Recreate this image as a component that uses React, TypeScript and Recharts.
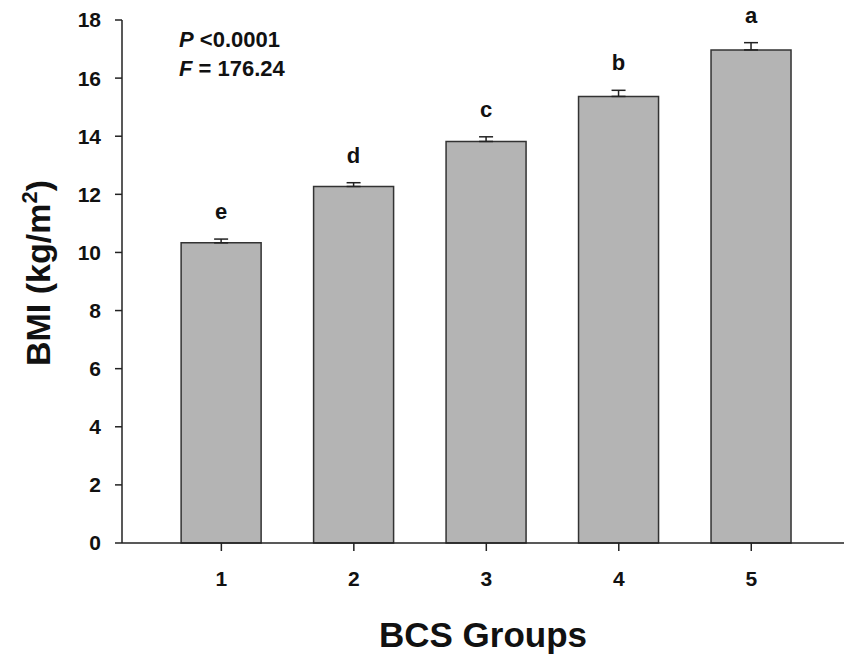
import React from "react";
import { BarChart, Bar, XAxis, YAxis, ErrorBar, LabelList, Label } from "recharts";

const groups = [1, 2, 3, 4, 5];
const bmiMeans = [10.33, 12.27, 13.82, 15.37, 16.97];
const bmiSem = [0.13, 0.13, 0.16, 0.21, 0.25];
const sigLetters = ["e", "d", "c", "b", "a"];
const yTicks = [0, 2, 4, 6, 8, 10, 12, 14, 16, 18];

const data = groups.map((g, i) => ({
  group: g,
  bmi: bmiMeans[i],
  err: [0, bmiSem[i]],
  sem: bmiSem[i],
  letter: sigLetters[i],
}));

const FONT = "'Liberation Sans', Arial, sans-serif";

const LetterLabel = (props: any) => {
  const { x, y, width, height, index } = props;
  const d = data[index];
  const pxPerUnit = height / d.bmi;
  const top = y - d.sem * pxPerUnit;
  return (
    <text
      x={x + width / 2}
      y={top - 20}
      textAnchor="middle"
      fontFamily={FONT}
      fontWeight="bold"
      fontSize={22}
      fill="#111"
    >
      {d.letter}
    </text>
  );
};

const YLabel = () => (
  <text
    x={50}
    y={273}
    transform="rotate(-90 50 273)"
    textAnchor="middle"
    fontFamily={FONT}
    fontWeight="bold"
    fontSize={34}
    fill="#111"
  >
    BMI (kg/m
    <tspan dy={-13} fontSize={22}>2</tspan>
    <tspan dy={13}>)</tspan>
  </text>
);

export default function App() {
  return (
    <div style={{ position: "absolute", left: 0, top: 0, width: 844, height: 654, overflow: "hidden", background: "#fff" }}>
      <BarChart
        width={844}
        height={654}
        data={data}
        margin={{ top: 20, right: 0, left: 0, bottom: 0 }}
      >
        <XAxis
          dataKey="group"
          type="number"
          domain={[0.25, 5.7]}
          ticks={groups}
          allowDataOverflow
          height={111}
          tickSize={8}
          tickMargin={20}
          stroke="#222"
          strokeWidth={1.5}
          tick={{ fill: "#111", fontSize: 21, fontWeight: "bold", fontFamily: FONT }}
        >
          <Label
            value="BCS Groups"
            position="insideBottom"
            offset={7}
            style={{ fontSize: 35, fontWeight: "bold", fontFamily: FONT, fill: "#111" }}
          />
        </XAxis>
        <YAxis
          domain={[0, 18]}
          ticks={yTicks}
          width={122}
          tickSize={7}
          tickMargin={14}
          stroke="#222"
          strokeWidth={1.5}
          tick={{ fill: "#111", fontSize: 21, fontWeight: "bold", fontFamily: FONT }}
          label={<YLabel />}
        />
        <Bar
          dataKey="bmi"
          barSize={80}
          fill="#b4b4b4"
          stroke="#333"
          strokeWidth={1.5}
          isAnimationActive={false}
        >
          <ErrorBar dataKey="err" width={7} stroke="#222" strokeWidth={1.5} direction="y" />
          <LabelList dataKey="letter" content={<LetterLabel />} />
        </Bar>
      </BarChart>
      <div style={{ position: "absolute", left: 179, top: 25, fontFamily: FONT, fontWeight: "bold", fontSize: 22, lineHeight: "29px", color: "#111" }}>
        <div><i>P</i> &lt;0.0001</div>
        <div><i>F</i> = 176.24</div>
      </div>
    </div>
  );
}
